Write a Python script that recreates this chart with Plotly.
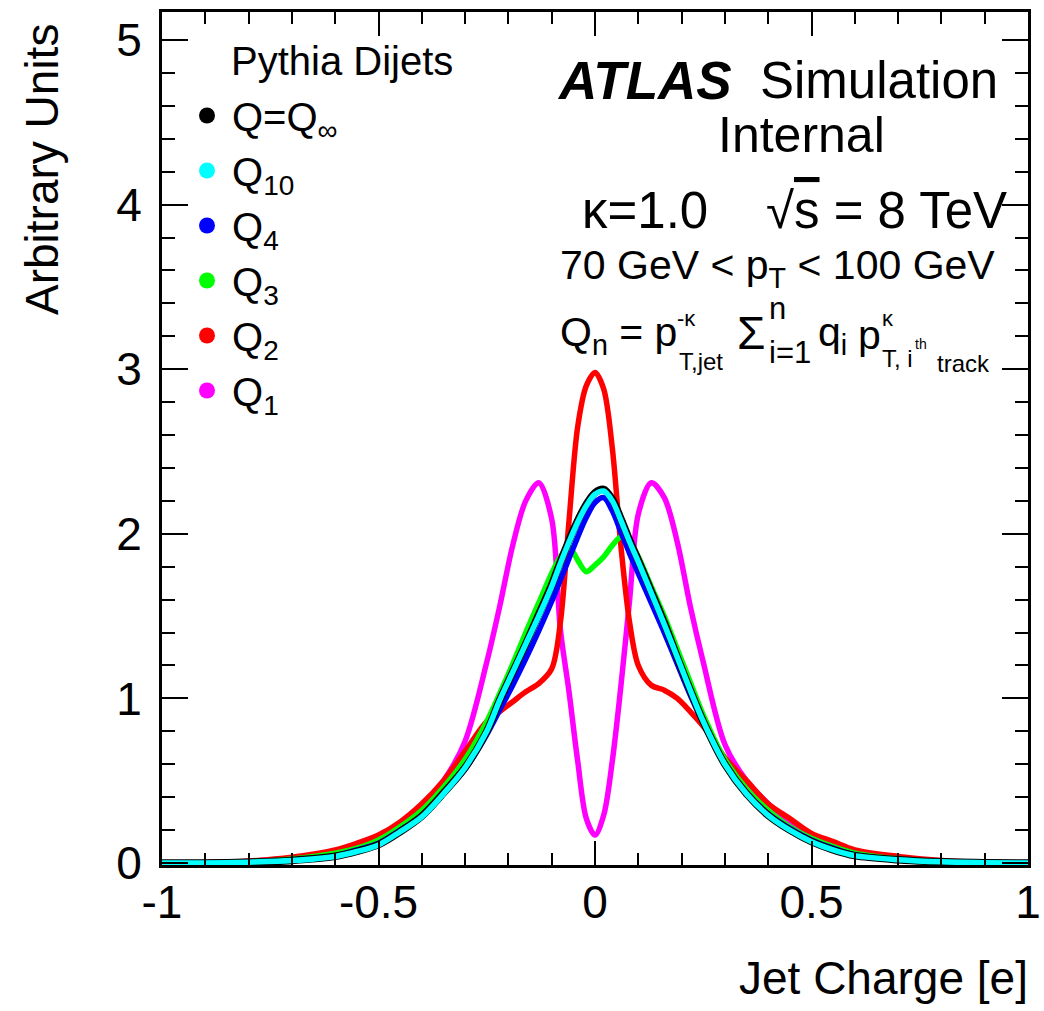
import plotly.graph_objects as go

# ---------------- data ----------------
jet_charge = [-1.0, -0.9, -0.8, -0.7, -0.6, -0.55, -0.5, -0.45, -0.4, -0.35, -0.3, -0.25, -0.22, -0.19,
              -0.16, -0.13, -0.1, -0.08, -0.06, -0.04, -0.02, 0.0, 0.02, 0.04, 0.06, 0.08, 0.1, 0.13,
              0.16, 0.19, 0.22, 0.25, 0.3, 0.35, 0.4, 0.45, 0.5, 0.55, 0.6, 0.7, 0.8, 0.9, 1.0]

q_inf = [0.0, 0.0, 0.005, 0.016, 0.041, 0.071, 0.112, 0.19, 0.285, 0.425, 0.58, 0.8, 0.99, 1.16,
         1.33, 1.51, 1.69, 1.83, 1.96, 2.08, 2.18, 2.25, 2.27, 2.21, 2.09, 1.96, 1.84, 1.65,
         1.46, 1.25, 1.05, 0.86, 0.6, 0.42, 0.29, 0.2, 0.13, 0.08, 0.045, 0.02, 0.007, 0.002, 0.0]

q10 = [0.0, 0.0, 0.005, 0.015, 0.04, 0.07, 0.11, 0.19, 0.28, 0.42, 0.58, 0.8, 0.99, 1.16,
       1.33, 1.5, 1.68, 1.82, 1.95, 2.07, 2.17, 2.24, 2.26, 2.2, 2.08, 1.95, 1.83, 1.64,
       1.45, 1.25, 1.05, 0.86, 0.6, 0.42, 0.29, 0.2, 0.13, 0.08, 0.045, 0.02, 0.007, 0.002, 0.0]

q4 = [0.0, 0.0, 0.005, 0.017, 0.045, 0.08, 0.12, 0.2, 0.29, 0.42, 0.57, 0.78, 0.93, 1.08,
      1.24, 1.41, 1.59, 1.72, 1.85, 1.98, 2.1, 2.19, 2.22, 2.14, 2.01, 1.88, 1.76, 1.58,
      1.4, 1.21, 1.02, 0.85, 0.6, 0.43, 0.3, 0.21, 0.14, 0.09, 0.05, 0.02, 0.008, 0.002, 0.0]

q3 = [0.0, 0.0, 0.007, 0.025, 0.06, 0.09, 0.14, 0.22, 0.32, 0.46, 0.63, 0.86, 1.03, 1.21,
      1.4, 1.58, 1.76, 1.86, 1.92, 1.84, 1.77, 1.81, 1.86, 1.93, 1.98, 1.95, 1.86, 1.68,
      1.5, 1.3, 1.1, 0.9, 0.63, 0.45, 0.32, 0.22, 0.15, 0.1, 0.06, 0.025, 0.008, 0.002, 0.0]

q2 = [0.0, 0.003, 0.012, 0.035, 0.08, 0.12, 0.17, 0.25, 0.36, 0.5, 0.68, 0.86, 0.92, 0.98,
      1.04, 1.09, 1.18, 1.46, 2.08, 2.65, 2.9, 2.98, 2.88, 2.52, 1.92, 1.46, 1.2, 1.08,
      1.05, 1.0, 0.92, 0.83, 0.64, 0.5, 0.36, 0.27, 0.18, 0.13, 0.08, 0.04, 0.015, 0.004, 0.0]

q1 = [0.0, 0.002, 0.01, 0.03, 0.07, 0.1, 0.15, 0.23, 0.35, 0.5, 0.74, 1.22, 1.56, 1.93,
      2.2, 2.31, 2.09, 1.42, 1.04, 0.62, 0.27, 0.17, 0.29, 0.62, 1.08, 1.6, 2.12, 2.31,
      2.22, 1.95, 1.56, 1.22, 0.72, 0.5, 0.36, 0.24, 0.16, 0.1, 0.07, 0.03, 0.01, 0.002, 0.0]

series_names = ["Q=Q<sub>∞</sub>", "Q<sub>10</sub>", "Q<sub>4</sub>", "Q<sub>3</sub>", "Q<sub>2</sub>", "Q<sub>1</sub>"]
series_colors = ["#000000", "#00ffff", "#0000ff", "#00ff00", "#ff0000", "#ff00ff"]

x_ticks = [-1, -0.5, 0, 0.5, 1]
x_tick_labels = ["-1", "-0.5", "0", "0.5", "1"]
y_ticks = [0, 1, 2, 3, 4, 5]

# ---------------- layout helpers ----------------
W, H = 1044, 1011
L, R, T, B = 162, 1028, 12, 865
FONT = "Liberation Sans, Arial, Helvetica, sans-serif"


def px(x):
    return (x - L) / (R - L)


def py(y):
    return (B - y) / (B - T)


fig = go.Figure()

# legend entries (dots)
for name, col in zip(series_names, series_colors):
    fig.add_trace(go.Scatter(x=[None], y=[None], mode="markers", name=name,
                             marker=dict(color=col, size=20), showlegend=True))

# curves (drawing order so cyan ends on top)
draw = [(q1, "#ff00ff", 5.5), (q2, "#ff0000", 5.5), (q3, "#00ff00", 5.5),
        (q4, "#0000ff", 5.5), (q_inf, "#000000", 7.5), (q10, "#00ffff", 5.5)]
for vals, col, w in draw:
    fig.add_trace(go.Scatter(x=jet_charge, y=vals, mode="lines", showlegend=False,
                             line=dict(color=col, width=w, shape="spline", smoothing=0.9),
                             hoverinfo="skip"))

axis_common = dict(showline=True, linecolor="black", linewidth=3, mirror="allticks",
                   ticks="inside", tickcolor="black", tickwidth=2, showgrid=False, zeroline=False,
                   automargin=False,
                   tickfont=dict(family=FONT, size=46, color="black"))

fig.update_xaxes(range=[-1, 1], tickvals=x_ticks, ticktext=x_tick_labels, ticklen=24,
                 ticklabelstandoff=-5,
                 minor=dict(dtick=0.1, ticklen=12, tickcolor="black", tickwidth=2, ticks="inside"),
                 **axis_common)
fig.update_yaxes(range=[-0.012, 5.17], tickvals=y_ticks, ticklen=26, ticklabelstandoff=8,
                 minor=dict(dtick=0.2, ticklen=13, tickcolor="black", tickwidth=2, ticks="inside"),
                 **axis_common)

ann = []


def add_text(text, x, y, size, xanchor="left", yanchor="middle", **kw):
    ann.append(dict(text=text, x=px(x), y=py(y), xref="paper", yref="paper", showarrow=False,
                    xanchor=xanchor, yanchor=yanchor,
                    font=dict(family=FONT, size=size, color="black"), **kw))


# axis titles
add_text("Jet Charge [e]", 1030, 978, 46, xanchor="right")
add_text("Arbitrary Units", 42, 170, 46, xanchor="center", textangle=-90)

# legend header
add_text("Pythia Dijets", 229, 61, 40)

# ATLAS label block
add_text("<b><i>ATLAS</i></b>", 555, 81, 53)
add_text("Simulation", 758, 81, 51)
add_text("Internal", 716, 135, 50)
add_text("κ=1.0", 580, 210, 51)
add_text("√<span style='text-decoration:overline'>s</span> = 8 TeV", 764, 210, 51)
add_text("70 GeV < p<sub>T</sub> < 100 GeV", 558, 268, 41)

# formula Q_n = p_T,jet^-k Sum_{i=1}^n q_i p_T,ith track^k
add_text("Q<sub>n</sub> = p", 558, 335, 41)
add_text("-κ", 675, 318, 22)
add_text("T,jet", 677, 361, 24)
add_text("Σ", 735, 333, 46)
add_text("n", 767, 308, 31)
add_text("i=1", 767, 352, 31)
add_text("q<sub>i</sub>", 816, 335, 41)
add_text("p", 856, 335, 41)
add_text("κ", 880, 318, 22)
add_text("T, i", 880, 358, 24)
add_text("th", 913, 344, 14)
add_text("track", 935, 364, 24)

fig.update_layout(
    width=W, height=H,
    margin=dict(l=L, r=W - R, t=T, b=H - B, autoexpand=False),
    paper_bgcolor="white", plot_bgcolor="white",
    font=dict(family=FONT, color="black"),
    annotations=ann,
    legend=dict(x=px(182), y=py(83), xanchor="left", yanchor="top",
                font=dict(family=FONT, size=40, color="black"),
                bgcolor="rgba(0,0,0,0)", borderwidth=0, itemwidth=40),
    showlegend=True,
)

fig.write_html("out.html")
